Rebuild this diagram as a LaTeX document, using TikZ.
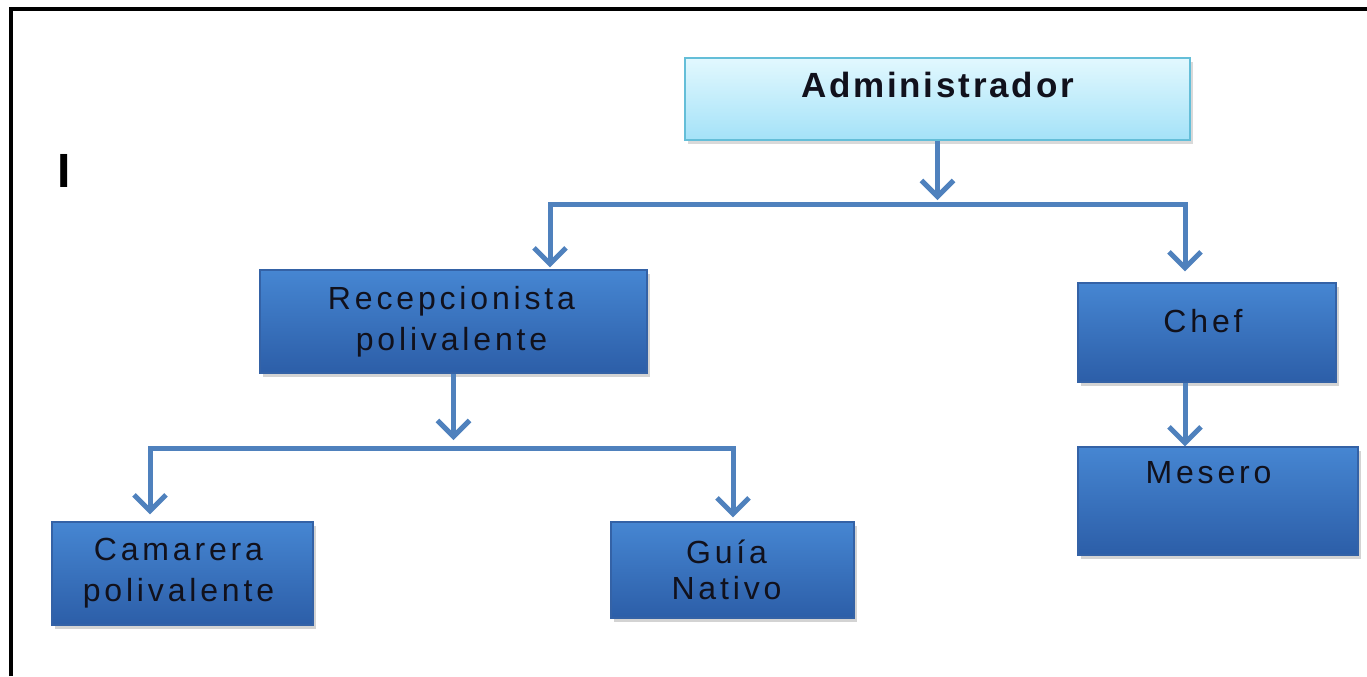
\documentclass[tikz,border=0pt]{standalone}
\usepackage{fontspec}
\setmainfont{Liberation Sans}
\newfontfamily\boxfont[LetterSpace=12]{Liberation Sans}
\newfontfamily\admfont[LetterSpace=8]{Liberation Sans}
\usetikzlibrary{arrows.meta,shadows,calc}
\definecolor{arrowblue}{RGB}{79,129,189}
\definecolor{boxtop}{RGB}{70,134,210}
\definecolor{boxbot}{RGB}{44,94,168}
\definecolor{boxedge}{RGB}{52,98,166}
\definecolor{admtop}{RGB}{226,248,254}
\definecolor{admbot}{RGB}{164,226,248}
\definecolor{admedge}{RGB}{100,190,216}
\definecolor{txt}{RGB}{17,17,28}
\tikzset{
  x=0.5pt, y=-0.5pt,
  bluebox/.style={draw=boxedge, line width=0.6pt, top color=boxtop, bottom color=boxbot,
    drop shadow={shadow xshift=1.5pt, shadow yshift=-2pt, opacity=0.35},
    text=txt, align=center, inner sep=0pt,
    font={\boxfont\fontsize{16pt}{20.5pt}\selectfont}},
  onebox/.style={draw=boxedge, line width=0.6pt, top color=boxtop, bottom color=boxbot,
    drop shadow={shadow xshift=1.5pt, shadow yshift=-2pt, opacity=0.35},
    text=txt, inner sep=0pt,
    font={\boxfont\fontsize{16pt}{20.5pt}\selectfont}},
  admbox/.style={draw=admedge, line width=0.8pt, top color=admtop, bottom color=admbot,
    drop shadow={shadow xshift=1.5pt, shadow yshift=-2pt, opacity=0.3},
    text=txt, inner sep=0pt,
    font={\admfont\bfseries\fontsize{17.5pt}{21pt}\selectfont}},
  conn/.style={draw=arrowblue, line width=2.5pt},
  arr/.style={conn, -{Straight Barb[length=8pt,width=16pt]}},
}
\begin{document}
\begin{tikzpicture}
\useasboundingbox (0,0) rectangle (1367,676);
\draw[line width=1.75pt, line join=miter] (11,676) -- (11,9) -- (1367,9);
\node[font=\bfseries\fontsize{24pt}{24pt}\selectfont, inner sep=0pt] (lbl) at (64,170.5) {I};

\node[admbox, minimum width=252.5pt, minimum height=41pt, text height=8pt, text depth=10pt] (adm) at (937.5,99) {Administrador};
\node[bluebox, minimum width=193.5pt, minimum height=51.5pt] (rec) at (453.5,321.5) {Recepcionista\kern2pt\\polivalente\kern2pt};
\node[onebox, minimum width=129pt, minimum height=49.5pt, text height=8pt, text depth=8pt] (chef) at (1207,332.5) {Chef\kern4pt};
\node[onebox, minimum width=140pt, minimum height=54pt, text height=5pt, text depth=22.5pt] (mes) at (1218,501) {Mesero\kern9.5pt};
\node[bluebox, minimum width=130.5pt, minimum height=51.5pt] (cam) at (182.5,573.5) {Camarera\kern4pt\\polivalente\kern4pt};
\node[bluebox, minimum width=121.5pt, minimum height=48pt] (guia) at (732.5,570) {Guía\kern6pt\\[-2.5pt]Nativo\kern6pt};

\coordinate (b1l) at (550,204);
\coordinate (b1r) at (1185,204);
\coordinate (b2l) at (150,448);
\coordinate (b2r) at (733,448);

\draw[arr, shorten >=2pt] (adm.south) -- (adm.south |- b1l);
\draw[conn, line cap=rect] (b1l) -- (b1r);
\draw[arr, shorten >=1pt] (b1l) -- (b1l |- rec.north);
\draw[arr, shorten >=5.5pt] (b1r) -- (b1r |- chef.north);

\draw[arr, shorten >=4pt] (rec.south) -- (rec.south |- b2l);
\draw[conn, line cap=rect] (b2l) -- (b2r);
\draw[arr, shorten >=3.5pt] (b2l) -- (b2l |- cam.north);
\draw[arr, shorten >=2pt] (b2r) -- (b2r |- guia.north);

\draw[arr] (b1r |- chef.south) -- (b1r |- mes.north);
\end{tikzpicture}
\end{document}
